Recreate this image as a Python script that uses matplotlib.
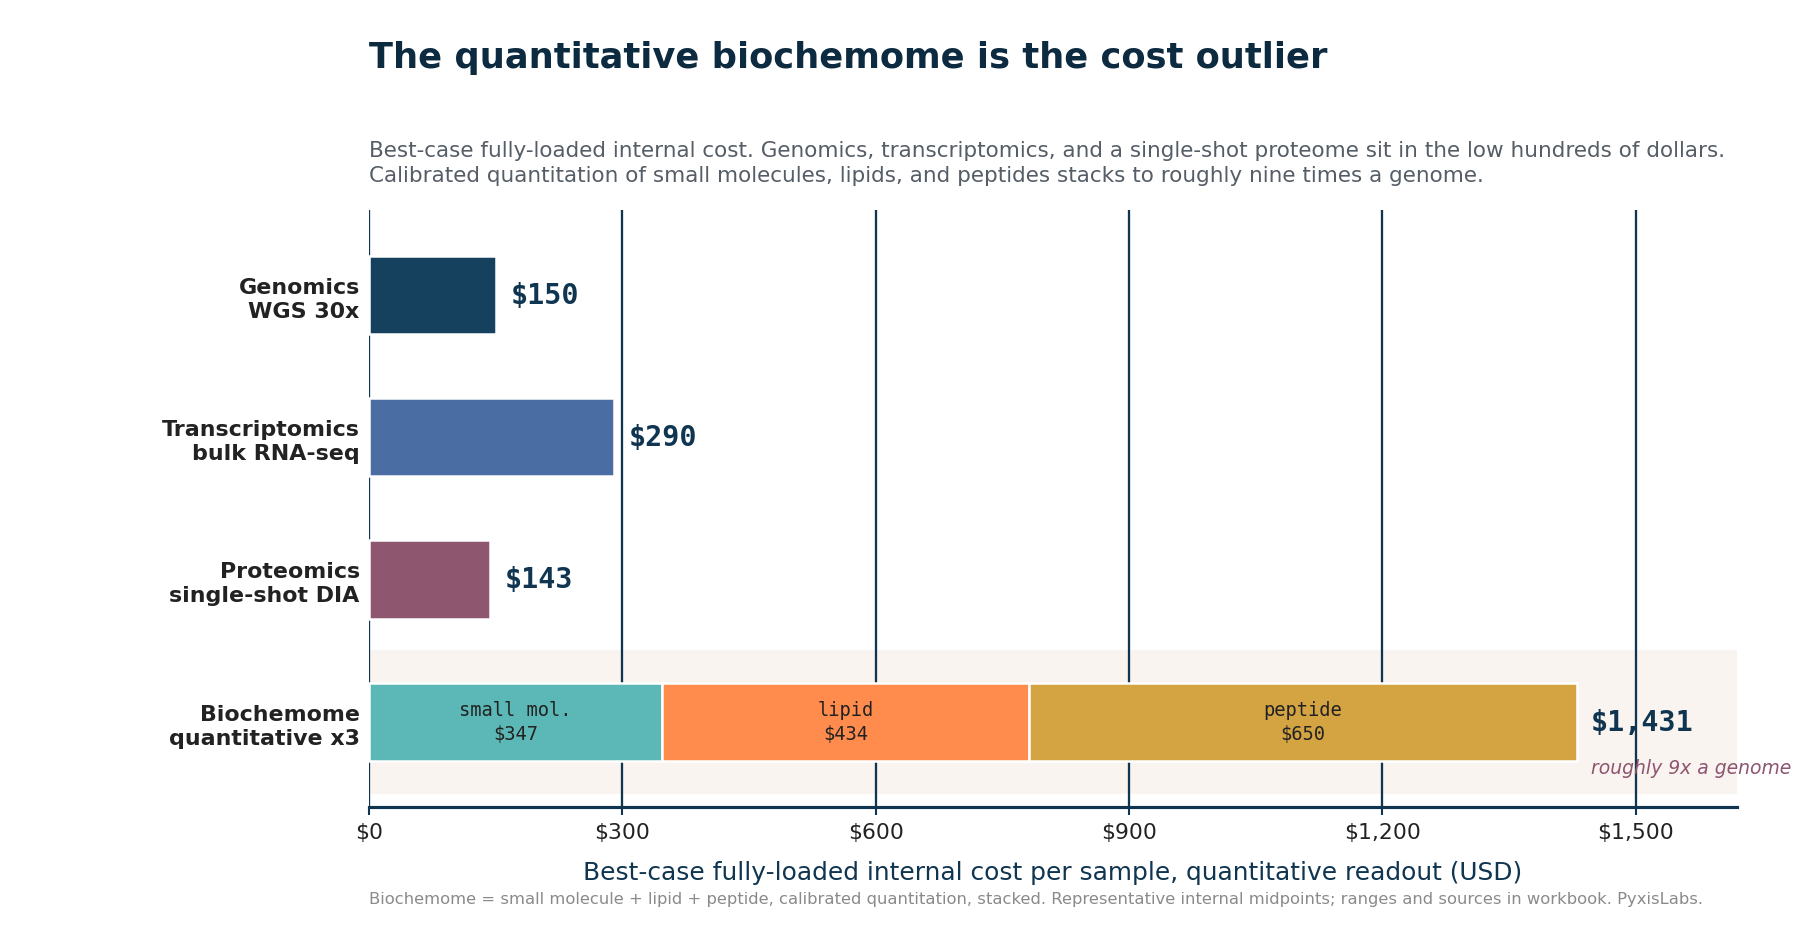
import matplotlib.pyplot as plt

# data
categories = ["Genomics\nWGS 30x", "Transcriptomics\nbulk RNA-seq",
              "Proteomics\nsingle-shot DIA", "Biochemome\nquantitative x3"]
single_costs = [150, 290, 143]
single_colors = ["#15405e", "#4a6ea3", "#8e566f"]
segment_names = ["small mol.", "lipid", "peptide"]
segment_costs = [347, 434, 650]
segment_colors = ["#5cb8b6", "#ff8c4c", "#d4a443"]
xticks = [0, 300, 600, 900, 1200, 1500]

navy = "#0f3550"

fig = plt.figure(figsize=(12, 6.2133), dpi=150)
ax = fig.add_axes([0.205, 0.133, 0.760, 0.641])

ax.axhspan(2.5, 3.5, color="#f9f4ef", zorder=0)
for t in xticks:
    ax.axvline(t, color=navy, lw=1.1, zorder=1)

for i, (v, c) in enumerate(zip(single_costs, single_colors)):
    ax.barh(i, v, height=0.55, color=c, edgecolor="white", linewidth=1.2, zorder=2)
    ax.text(v + 18, i, f"${v:,}", va="center", ha="left", family="DejaVu Sans Mono",
            fontweight="bold", fontsize=13.6, color=navy, zorder=3)

left = 0
for name, v, c in zip(segment_names, segment_costs, segment_colors):
    ax.barh(3, v, left=left, height=0.55, color=c, edgecolor="white", linewidth=1.2, zorder=2)
    ax.text(left + v / 2, 3, f"{name}\n${v:,}", va="center", ha="center",
            family="DejaVu Sans Mono", fontsize=9, color="#222222", zorder=3,
            linespacing=1.3)
    left += v
total = sum(segment_costs)
ax.text(total + 16, 3, f"${total:,}", va="center", ha="left", family="DejaVu Sans Mono",
        fontweight="bold", fontsize=13.6, color=navy, zorder=3)
ax.text(total + 16, 3.32, "roughly 9x a genome", va="center", ha="left", style="italic",
        fontsize=9, color="#8e5470", zorder=3, clip_on=False)

ax.set_xlim(0, 1620)
ax.set_ylim(3.6, -0.6)
ax.set_yticks(range(len(categories)))
ax.set_yticklabels(categories, fontweight="bold", fontsize=10.6, color="#222222", linespacing=1.25)
ax.tick_params(axis="y", length=0, pad=4.5)
ax.set_xticks(xticks)
ax.set_xticklabels([f"${t:,}" for t in xticks], fontsize=10.5, color="#222222")
ax.tick_params(axis="x", length=4, width=1, color=navy, pad=3)
for s in ["top", "right", "left"]:
    ax.spines[s].set_visible(False)
ax.spines["bottom"].set_color(navy)
ax.spines["bottom"].set_linewidth(1.5)
ax.set_xlabel("Best-case fully-loaded internal cost per sample, quantitative readout (USD)",
              fontsize=11.95, color=navy, labelpad=9)

fig.text(0.205, 0.938, "The quantitative biochemome is the cost outlier", fontsize=16.9,
         fontweight="bold", color="#0d2b40", va="center")
fig.text(0.205, 0.800, "Best-case fully-loaded internal cost. Genomics, transcriptomics, and a single-shot proteome sit in the low hundreds of dollars.\n"
         "Calibrated quantitation of small molecules, lipids, and peptides stacks to roughly nine times a genome.",
         fontsize=10.35, color="#555d66", va="bottom", linespacing=1.32)
fig.text(0.205, 0.035, "Biochemome = small molecule + lipid + peptide, calibrated quantitation, stacked. "
         "Representative internal midpoints; ranges and sources in workbook. PyxisLabs.",
         fontsize=7.85, color="#8a8a8a", va="center")

fig.savefig("out.png", dpi=150)
